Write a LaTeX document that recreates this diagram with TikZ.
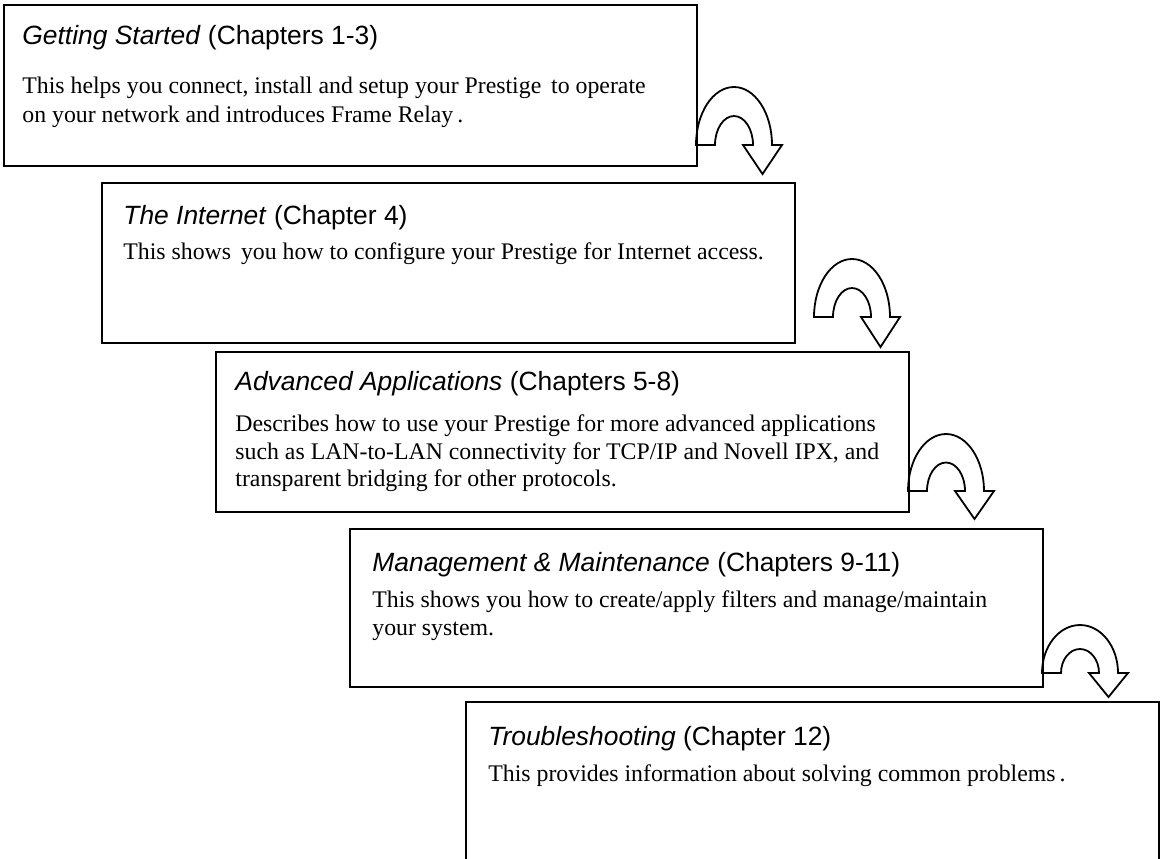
\documentclass[tikz,border=0pt]{standalone}
\usepackage{fontspec}
\setmainfont{Liberation Serif}
\setsansfont{Liberation Sans}
\usetikzlibrary{calc}
\tikzset{
  box/.style={draw, line width=1pt, anchor=north west, minimum width=346.5pt, inner sep=0pt, outer sep=0pt},
  ttl/.style={anchor=base west, inner sep=0pt, font=\sffamily\fontsize{13.2pt}{15pt}\selectfont},
  bod/.style={anchor=base west, inner sep=0pt, font=\fontsize{11.9pt}{14pt}\selectfont},
  uarrow/.style={draw, line width=0.9pt, line join=miter},
  pics/uturn/.style 2 args={code={
    \draw[uarrow] (0,0) arc[start angle=180, end angle=360, x radius=38, y radius=#1]
      -- (86,0) -- (66.5,#2) -- (47,0) -- (57,0)
      arc[start angle=360, end angle=180, x radius=19, y radius=#1/2] -- cycle;
  }}
}
\begin{document}
\begin{tikzpicture}[x=0.5pt,y=-0.5pt]
\useasboundingbox (0,0) rectangle (1162,858);
\clip (0,0) rectangle (1162,858);
% boxes
\node[box, minimum height=80.5pt] (b1) at (4,5) {};
\node[box, minimum height=80pt] (b2) at (102,183) {};
\node[box, minimum height=80pt] (b3) at (216,352) {};
\node[box, minimum height=79pt] (b4) at (350,529) {};
\node[box, minimum height=85pt] (b5) at (466,702) {};
% texts box 1
\node[ttl] (t1) at (22,44) {\textit{Getting Started} (Chapters 1-3)};
\node[bod] (p1a) at (22,93) {This helps you connect, install and setup your Prestige\, to operate};
\node[bod] (p1b) at (22,122) {on your network and introduces Frame Relay\,.};
% box 2
\node[ttl] (t2) at (123,224) {\textit{The Internet} (Chapter 4)};
\node[bod] (p2a) at (123,259) {This shows\, you how to configure your Prestige for Internet access.};
% box 3
\node[ttl] (t3) at (235,390) {\textit{Advanced Applications} (Chapters 5-8)};
\node[bod] (p3a) at (235,431) {Describes how to use your Prestige for more advanced applications};
\node[bod] (p3b) at (235,459) {such as LAN-to-LAN connectivity for TCP/IP and Novell IPX, and};
\node[bod] (p3c) at (235,486) {transparent bridging for other protocols.};
% box 4
\node[ttl] (t4) at (372,571) {\textit{Management \& Maintenance} (Chapters 9-11)};
\node[bod] (p4a) at (372,607) {This shows you how to create/apply filters and manage/maintain};
\node[bod] (p4b) at (372,635) {your system.};
% box 5
\node[ttl] (t5) at (488,745) {\textit{Troubleshooting} (Chapter 12)};
\node[bod] (p5a) at (488,781) {This provides information about solving common problems\,.};
% u-turn arrows
\pic at ($(b1.south east)+(-1,-21)$) {uturn={58}{29}};
\pic at ($(b2.south east)+(19,-26)$) {uturn={58}{30}};
\pic at ($(b3.south east)+(-1,-21)$) {uturn={57}{28}};
\pic at ($(b4.south east)+(-1,-14)$) {uturn={48}{24}};
\end{tikzpicture}
\end{document}
